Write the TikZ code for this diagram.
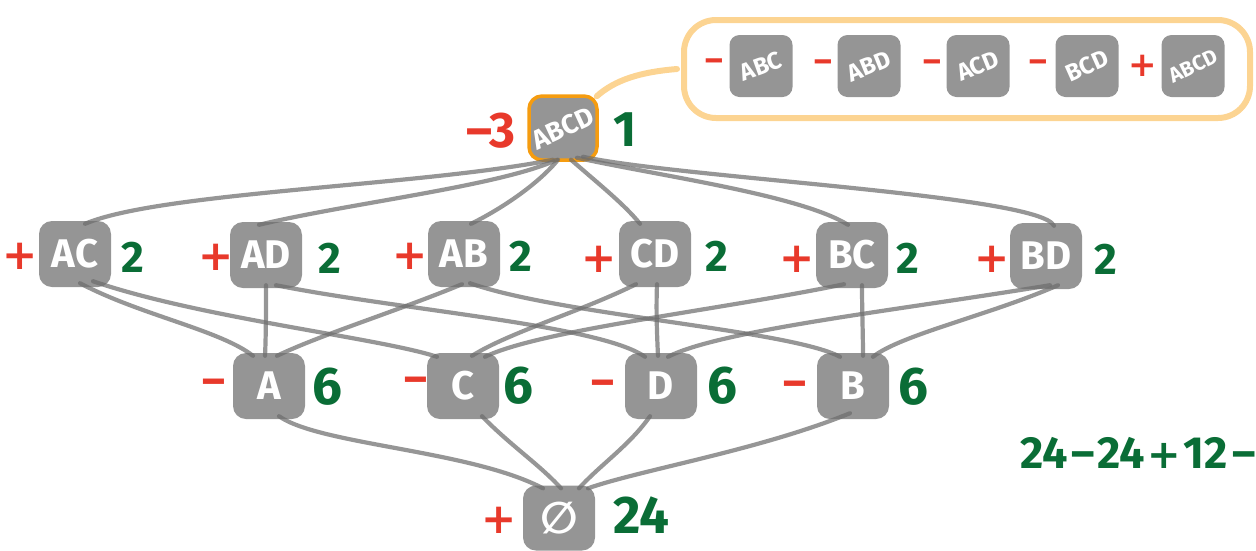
\documentclass[tikz,border=0pt]{standalone}
\usepackage{fontspec}
\usepackage{graphicx}
\setmainfont{Fira Sans}
\newfontfamily\symfont{DejaVu Sans}
\definecolor{boxgray}{HTML}{959595}
\definecolor{edgegray}{HTML}{6E6E6E}
\definecolor{signred}{HTML}{E8392B}
\definecolor{cntgreen}{HTML}{0A6D36}
\definecolor{hilite}{HTML}{F59C10}
\definecolor{peach}{HTML}{FCD492}

\begin{document}
\begin{tikzpicture}[x=1pt,y=-1pt,
  setbox/.style={fill=boxgray, rounded corners=13pt, minimum width=72pt,
    minimum height=66pt, inner sep=0pt, text=white,
    font=\fontsize{40}{40}\selectfont\bfseries},
  minibox/.style={fill=boxgray, rounded corners=10pt, minimum width=63pt,
    minimum height=62pt, inner sep=0pt, text=white,
    font=\fontsize{24}{24}\selectfont\bfseries},
  sign/.style={text=signred, inner sep=0pt, font=\fontsize{44}{44}\selectfont\bfseries},
  plus/.style={text=signred, inner sep=0pt, font=\symfont\fontsize{42}{42}\selectfont\bfseries},
  minisign/.style={text=signred, inner sep=0pt, font=\fontsize{34}{34}\selectfont\bfseries},
  miniplus/.style={text=signred, inner sep=0pt, font=\symfont\fontsize{34}{34}\selectfont\bfseries},
  cnt/.style={text=cntgreen, inner sep=0pt, font=\fontsize{44}{44}\selectfont\bfseries},
  bigcnt/.style={text=cntgreen, inner sep=0pt, font=\fontsize{53}{53}\selectfont\bfseries},
  edge/.style={draw=edgegray, line width=4.2pt, opacity=0.72, line cap=round},
  link/.style={draw=peach, line width=6pt, line cap=round}
]
\path[use as bounding box] (0,0) rectangle (1256,550);
\clip (0,0) rectangle (1256,550);

% ---- lattice nodes ----
\node[setbox, draw=hilite, line width=3.5pt, minimum width=68pt, minimum height=64pt]
  (ABCD) at (563,128) {\rotatebox{25}{\fontsize{27}{27}\selectfont ABCD}};

\node[setbox] (AC) at (75,254)  {AC};
\node[setbox] (AD) at (266,255) {AD};
\node[setbox] (AB) at (464,254) {AB};
\node[setbox] (CD) at (655,254) {CD};
\node[setbox] (BC) at (852,255) {BC};
\node[setbox] (BD) at (1046,256){BD};

\node[setbox] (A) at (269,386) {A};
\node[setbox] (C) at (463,386) {C};
\node[setbox] (D) at (661,386) {D};
\node[setbox] (B) at (853,386) {B};

\node[setbox, minimum height=65pt] (E) at (559,518) {\symfont\fontsize{44}{44}\selectfont ∅};

% ---- edges: top set to pairs ----
\draw[edge] ([xshift=10pt,yshift=-3pt]AC.north) .. controls (160,192) and (420,186) .. ([xshift=-10pt,yshift=2pt]ABCD.south);
\draw[edge] ([xshift=-7pt,yshift=-3pt]AD.north) .. controls (350,203) and (500,186) .. ([xshift=-6pt,yshift=2pt]ABCD.south);
\draw[edge] ([xshift=7pt,yshift=-3pt]AB.north) .. controls (505,207) and (540,182) .. ([xshift=-5pt,yshift=2pt]ABCD.south);
\draw[edge] ([xshift=-15pt,yshift=-3pt]CD.north) .. controls (625,205) and (600,185) .. ([xshift=8pt,yshift=2pt]ABCD.south);
\draw[edge] ([xshift=-4pt,yshift=-3pt]BC.north) .. controls (800,195) and (660,176) .. ([xshift=14pt,yshift=4pt]ABCD.south);
\draw[edge] ([xshift=8pt,yshift=-3pt]BD.north) .. controls (1040,195) and (680,178) .. ([xshift=20pt,yshift=5pt]ABCD.south);

% ---- edges: pairs to singletons ----
\draw[edge] ([xshift=5pt,yshift=4pt]AC.south) .. controls (140,315) and (220,330) .. ([xshift=-16pt,yshift=-3pt]A.north);
\draw[edge] ([xshift=18pt,yshift=6pt]AC.south) .. controls (200,318) and (380,338) .. ([xshift=-26pt,yshift=-4pt]C.north);
\draw[edge] ([yshift=3pt]AD.south) .. controls (266,310) and (266,335) .. ([xshift=-4pt,yshift=-3pt]A.north);
\draw[edge] ([xshift=10pt,yshift=3pt]AD.south) .. controls (400,310) and (600,325) .. ([xshift=-16pt,yshift=-4pt]D.north);
\draw[edge] ([xshift=-2pt,yshift=3pt]AB.south) .. controls (400,310) and (320,335) .. ([xshift=8pt,yshift=-3pt]A.north);
\draw[edge] ([xshift=6pt,yshift=4pt]AB.south) .. controls (560,315) and (790,330) .. ([xshift=-13pt,yshift=-4pt]B.north);
\draw[edge] ([xshift=-19pt,yshift=3pt]CD.south) .. controls (580,312) and (510,332) .. ([xshift=9pt,yshift=-3pt]C.north);
\draw[edge] ([xshift=2pt,yshift=3pt]CD.south) .. controls (656,310) and (657,335) .. ([xshift=-3pt,yshift=-3pt]D.north);
\draw[edge] ([xshift=-8pt,yshift=4pt]BC.south) .. controls (720,310) and (540,330) .. ([xshift=22pt,yshift=-4pt]C.north);
\draw[edge] ([xshift=10pt,yshift=3pt]BC.south) .. controls (862,310) and (863,335) .. ([xshift=10pt,yshift=-3pt]B.north);
\draw[edge] ([xshift=4pt,yshift=4pt]BD.south) .. controls (900,310) and (720,330) .. ([xshift=7pt,yshift=-4pt]D.north);
\draw[edge] ([xshift=12pt,yshift=4pt]BD.south) .. controls (990,315) and (900,335) .. ([xshift=20pt,yshift=-4pt]B.north);

% ---- edges: singletons to empty set ----
\draw[edge] ([xshift=10pt,yshift=3pt]A.south) .. controls (320,445) and (470,450) .. ([xshift=-16pt,yshift=-3pt]E.north);
\draw[edge] ([xshift=19pt,yshift=3pt]C.south) .. controls (510,445) and (540,465) .. ([xshift=2pt,yshift=-3pt]E.north);
\draw[edge] ([xshift=-11pt,yshift=3pt]D.south) .. controls (630,445) and (600,465) .. ([xshift=20pt,yshift=-3pt]E.north);
\draw[edge] ([xshift=-3pt,yshift=6pt]B.south) .. controls (760,450) and (640,470) .. ([xshift=29pt,yshift=-3pt]E.north);

% ---- signs and counts ----
\node[sign] (sABCD) at (491,131) {\fontsize{50}{50}\selectfont –3};
\node[bigcnt] (nABCD) at (625,130) {\fontsize{50}{50}\selectfont 1};

\node[plus] (sAC) at (20,256) {+};  \node[cnt] (nAC) at (133,257) {2};
\node[plus] (sAD) at (216,257) {+}; \node[cnt] (nAD) at (330,258) {2};
\node[plus] (sAB) at (410,256) {+}; \node[cnt] (nAB) at (521,256) {2};
\node[plus] (sCD) at (599,259) {+}; \node[cnt] (nCD) at (717,256) {2};
\node[plus] (sBC) at (797,259) {+}; \node[cnt] (nBC) at (908,258) {2};
\node[plus] (sBD) at (992,259) {+}; \node[cnt] (nBD) at (1106,259) {2};

\node[sign] (sA) at (214,387) {–}; \node[bigcnt] (nA) at (327,387) {6};
\node[sign] (sC) at (416,385) {–}; \node[bigcnt] (nC) at (518,386) {6};
\node[sign] (sD) at (603,388) {–}; \node[bigcnt] (nD) at (722,386) {6};
\node[sign] (sB) at (795,389) {–}; \node[bigcnt] (nB) at (913,387) {6};

\node[plus] (sE) at (499,520) {+}; \node[bigcnt] (nE) at (641,515) {24};

% ---- expansion of the top set ----
\node[draw=peach, line width=6pt, rounded corners=32pt, minimum width=566pt,
  minimum height=98pt, inner sep=0pt] (sum) at (967,69) {};
\draw[link] ([xshift=-2pt,yshift=-2pt]ABCD.north east) .. controls (615,80) and (640,72) .. ([xshift=-4pt]sum.west);

\node[minisign] (m1) at (714,65) {–};
\node[minibox] (tABC) at (761,66) {\rotatebox{20}{ABC}};
\node[minisign] (m2) at (823,66) {–};
\node[minibox] (tABD) at (869,66) {\rotatebox{22}{ABD}};
\node[minisign] (m3) at (932,66) {–};
\node[minibox] (tACD) at (978,66) {\rotatebox{22}{ACD}};
\node[minisign] (m4) at (1038,66) {–};
\node[minibox] (tBCD) at (1087,66) {\rotatebox{24}{BCD}};
\node[miniplus] (p5) at (1143,66) {+};
\node[minibox] (tABCD) at (1193,66) {\rotatebox{26}{\fontsize{21}{21}\selectfont ABCD}};

% ---- running total ----
\node[cnt, anchor=base west] (total) at (1020,468)
  {\fontsize{45}{45}\selectfont 24\hspace{4pt}–\hspace{3pt}24\hspace{2pt}{\symfont\fontsize{40}{40}\selectfont +}\hspace{3pt}12\hspace{4pt}–};
\end{tikzpicture}
\end{document}
